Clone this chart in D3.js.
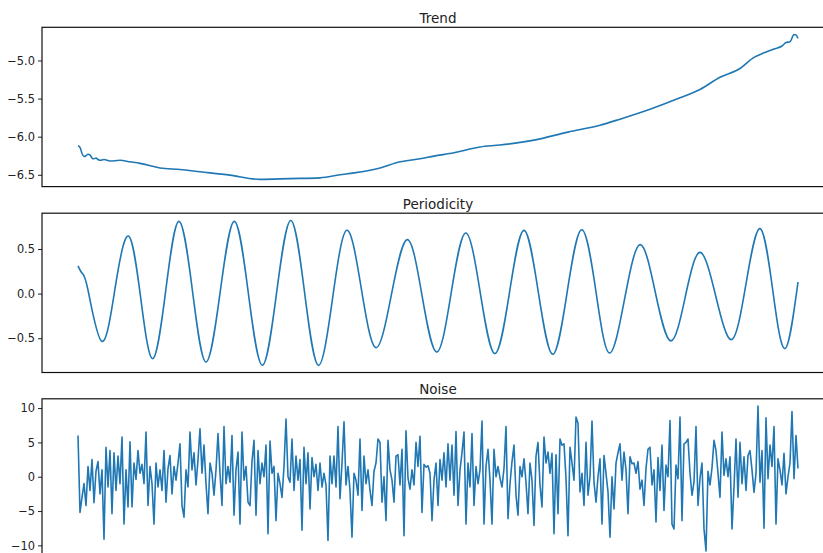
<!DOCTYPE html>
<html>
<head>
<meta charset="utf-8">
<script src="https://cdn.jsdelivr.net/npm/d3@7"></script>
<style>
  body { margin: 0; background: #fff; overflow: hidden; }
  text { font-family: "DejaVu Sans", sans-serif; fill: #222; }
</style>
</head>
<body>
<svg></svg>
<script>
const size = {w: 823, h: 553};
// axes box: left edge, right edge (runs past the window), panel height and top of each panel
const box = {l: 42, r: 834, h: 159.3};
const panelTops = [27.3, 213.2, 398.8];

// ---------- data (time step, value) ----------
const trendT = [0, 1, 2, 3, 4, 5, 6, 7, 8, 9, 10, 11, 13, 16, 21, 26, 31, 41, 51, 61, 76, 91, 106, 121,
    131, 138, 151, 161, 171, 178, 188, 201, 211, 228, 245, 261, 271, 286, 301, 311, 321, 331, 338,
    343, 348, 352, 354, 356, 358, 359, 360];
const trendV = [-6.12, -6.14, -6.22, -6.26, -6.25, -6.23, -6.24, -6.28, -6.29, -6.28, -6.30, -6.31,
    -6.30, -6.32, -6.31, -6.33, -6.35, -6.41, -6.43, -6.46, -6.505, -6.56, -6.55, -6.54, -6.50,
    -6.475, -6.41, -6.33, -6.29, -6.255, -6.21, -6.135, -6.11, -6.045, -5.94, -5.85, -5.77, -5.64,
    -5.49, -5.38, -5.22, -5.105, -4.96, -4.90, -4.85, -4.81, -4.765, -4.755, -4.66, -4.665, -4.71];

const periodT = [0, 2, 5, 11.9, 18.5, 25.2, 31.3, 37.4, 43.9, 50.5, 57.3, 64, 71.1, 78.2, 85.2,
    92.2, 99.3, 106.4, 113.3, 120.2, 127.3, 134.4, 141.7, 149, 156.8, 164.7, 172, 179.4, 186.6,
    193.9, 201.2, 208.5, 215.8, 223, 230.2, 237.4, 244.6, 251.9, 259, 265.7, 273.3, 281, 288.7,
    296.4, 303.7, 311, 318.9, 326.9, 334, 341, 347.3, 353.5, 360];
const periodV = [0.31, 0.23, 0.04, -0.534, 0.055, 0.645, -0.04, -0.728, 0.04, 0.81, 0.02,
    -0.766, 0.02, 0.81, 0.0, -0.803, 0.01, 0.82, 0.01, -0.803, -0.05, 0.709, 0.05, -0.605, 0.0,
    0.605, -0.02, -0.654, 0.01, 0.679, 0.0, -0.672, 0.02, 0.709, 0.01, -0.68, 0.02, 0.716, 0.02,
    -0.665, -0.06, 0.549, 0.01, -0.53, -0.03, 0.462, -0.03, -0.515, 0.11, 0.728, 0.05, -0.616, 0.13];

// noise: one value per time step 0..360
const noiseV = [
    6.0, -5.2, -3.0, -1.0, -4.2, 1.5, -2.0, 2.5, -3.8, 0.8, 2.2, -2.5, 1.0, -9.1, 4.3, -1.5, 3.8, -5.4,
    3.5, -2.0, 3.0, -1.0, 5.8, -6.9, 1.0, -4.4, 5.1, -4.4, 2.0, -0.4, 3.8, 0.5, 1.8, -1.0, 6.5, -4.2,
    1.5, -1.0, -6.9, 2.0, -1.5, 1.0, -2.0, 3.8, -3.7, 1.2, 3.1, -2.5, 1.5, -0.5, 2.0, 4.8, -4.2, -5.9,
    1.0, -1.5, 6.5, 1.0, 3.5, -1.2, 2.5, 7.0, 0.5, 4.6, -1.0, -5.4, 2.0, 0.5, -2.7, 1.0, 6.3,
    0.5, -4.2, 7.3, -1.0, 1.5, -0.8, 6.0, -5.6, 1.0, 3.6, -6.9, 6.5, -0.5, 1.5, -3.7, -4.2, 2.2, 5.3,
    -5.6, 3.8, -1.0, 2.0, 0.0, 4.6, -8.3, 5.2, 0.5, 1.5, -6.4, 0.5, -1.0, -3.0, 1.5, 8.4, 0.0, -0.8,
    5.5, -2.0, 3.0, -0.5, 2.5, -7.8, 4.3, -1.0, 3.5, -4.7, 2.8, 0.0, 1.8, -2.0, 2.0, -1.5, 0.5, -1.2,
    -9.3, 3.0, -1.0, 3.0, -1.5, 7.3, -3.2, 2.0, 8.0, -1.2, 1.5, -2.0, -8.8, 0.5, -0.5, -2.7, 5.5,
    -4.9, 3.0,
    -1.0, 1.0, -2.0, -4.2, 0.8, 2.0, 5.5, 5.0, -3.7, 0.0, -6.4, 5.3, 1.0, -0.5, -3.7, 3.0, 3.2, -1.2,
    4.0, -8.6, 6.7, -0.2, -1.8, 1.0, -1.2, 5.0, 1.5, 5.9, -5.2, 1.8, 1.4, 1.6, 0.5, -6.4, -0.5, 2.0,
    -4.2, 2.5, -0.5, 3.5, -1.5, 4.8, -0.5, 4.6, -2.7, 6.6, -4.2, 1.0, 3.5, 6.5, -6.9, 2.0, -1.5, 6.3,
    -4.2, 1.5, -1.0, 1.0, 8.1, -6.9, 1.5, 4.0, -0.5, -6.9, 4.0, 0.0, 1.5, -0.2, -1.5, 1.2, 7.3, -6.1,
    -1.0,
    2.2, 4.6, -2.7, -5.6, 1.5, 0.0, 2.6, -0.8, -5.4, 2.0, -0.5, -7.1, 3.0, 5.0, -1.2, -4.4, 5.8, 2.0,
    3.6, 0.5, 3.4, -8.3, 3.2, -5.4, 5.5, 4.6, 4.8, -0.2, -8.6, 4.3, 2.0, -0.5, 8.7, 7.8, -2.2, 0.5,
    -4.2, 5.0, -2.7, 0.0, 8.1, -0.8, -3.7, 0.0, 2.6, -6.9, 3.1, 0.5, -2.2, -8.8, 0.0, -4.7, 2.0, 3.5,
    4.8, -0.5, 3.6, 1.0, -5.4, 2.9, 1.9, 2.0, 0.5, 2.2, -1.8, -0.5, -4.2, 1.2, 4.0, 4.3, -1.2, 1.0,
    -6.6, 2.8, -2.0, 4.6, -4.9, 1.7, 0.0, 8.2, -6.9, -7.6, 1.7, -0.3, 8.7, -6.4, 4.8, 5.0, 5.5, 0.5,
    -2.7, -0.8, 7.3, -4.2, -0.2, 2.0, -7.6, -10.8, 0.8, -1.2, 1.3, 5.3, 3.8, 0.5, -3.0, 6.5, 0.2, 2.6,
    0.0, 2.9, -7.6, -1.5, 5.5, -3.0, 5.0, -1.0, 2.9, -2.0, 3.1, 3.8, 1.0, -2.3, 0.5, 10.3, -0.8, 3.8,
    -7.5, 8.6, -0.3, 4.6, 1.5, 7.3, -6.9, 2.6, 1.0, -1.2, 3.4, -2.5, 0.0, 2.0, 9.5, -0.3, 6.0, 1.2];

const trendTicks = [-5.0, -5.5, -6.0, -6.5];
const periodTicks = [0.5, 0.0, -0.5];
const noiseTicks = [10, 5, 0, -5, -10];

const panels = [
    {title: 'Trend', t: trendT, v: trendV, ticks: trendTicks, fmt: d3.format('.1f'), curve: d3.curveMonotoneX},
    {title: 'Periodicity', t: periodT, v: periodV, ticks: periodTicks, fmt: d3.format('.1f'), curve: d3.curveNatural},
    {title: 'Noise', t: noiseV.map((d, i) => i), v: noiseV, ticks: noiseTicks, fmt: d3.format('d'), curve: d3.curveLinear}
];

const svg = d3.select('svg')
    .attr('width', size.w)
    .attr('height', size.h);

// shared x scale, padded 5% on each side like matplotlib
const tMax = 360;
const xScale = d3.scaleLinear()
    .domain([-0.05 * tMax, 1.05 * tMax])
    .range([box.l, box.r]);

// matplotlib style minus sign
const minus = s => s.replace('-', '\u2212');

panels.forEach(function(p, k) {
    const top = panelTops[k];
    const [lo, hi] = d3.extent(p.v);
    const pad = (hi - lo) * 0.05;
    const yScale = d3.scaleLinear()
        .domain([lo - pad, hi + pad])
        .range([top + box.h, top]);

    const g = svg.append('g').classed('panel', true);

    // clip the line to the axes box
    g.append('clipPath')
        .attr('id', 'clip' + k)
        .append('rect')
        .attr('x', box.l)
        .attr('y', top)
        .attr('width', box.r - box.l)
        .attr('height', box.h);

    let line = d3.line()
        .x((d, i) => xScale(p.t[i]))
        .y(d => yScale(d))
        .curve(p.curve);

    g.append('path')
        .datum(p.v)
        .attr('clip-path', 'url(#clip' + k + ')')
        .attr('d', line)
        .attr('fill', 'none')
        .attr('stroke', '#1f77b4')
        .attr('stroke-width', 1.6)
        .attr('stroke-linejoin', 'round');

    // left axis
    const axis = d3.axisLeft(yScale)
        .tickValues(p.ticks)
        .tickSize(4)
        .tickPadding(3)
        .tickFormat(d => minus(p.fmt(d)));

    const ag = g.append('g')
        .attr('transform', 'translate(' + box.l + ',0)')
        .call(axis);
    ag.select('.domain').remove();
    ag.selectAll('line').attr('stroke', '#222').attr('stroke-width', 1);
    ag.selectAll('text')
        .style('font-size', '11.4px')
        .attr('fill', '#222');

    // axes frame
    g.append('rect')
        .attr('x', box.l)
        .attr('y', top)
        .attr('width', box.r - box.l)
        .attr('height', box.h)
        .attr('fill', 'none')
        .attr('stroke', '#111')
        .attr('stroke-width', 1.2);

    // title
    g.append('text')
        .attr('x', (box.l + box.r) / 2)
        .attr('y', top - 4.5)
        .attr('text-anchor', 'middle')
        .style('font-size', '13.5px')
        .text(p.title);
});
</script>
</body>
</html>
